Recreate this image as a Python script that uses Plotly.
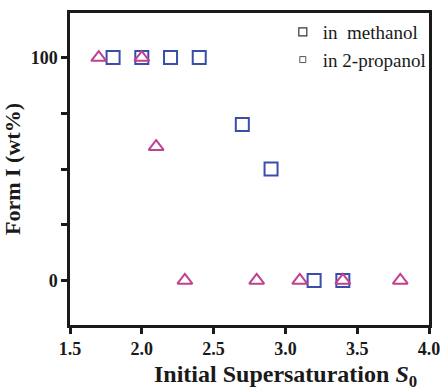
import plotly.graph_objects as go

# Form I content vs. initial supersaturation
methanol_s0 = [1.8, 2.0, 2.2, 2.4, 2.7, 2.9, 3.2, 3.4]
methanol_form1 = [100, 100, 100, 100, 70, 50, 0, 0]

propanol_s0 = [1.7, 2.0, 2.1, 2.3, 2.8, 3.1, 3.4, 3.8]
propanol_form1 = [100, 100, 60, 0, 0, 0, 0, 0]

x_ticks = [1.5, 2.0, 2.5, 3.0, 3.5, 4.0]
y_ticks = [0, 100]

BLUE = "#3b4dab"
MAGENTA = "#c0428f"
INK = "#1a1a1a"
SERIF = "Liberation Serif"

fig = go.Figure()

fig.add_trace(go.Scatter(
    x=methanol_s0, y=methanol_form1, mode="markers", showlegend=False,
    marker=dict(symbol="square-open", size=13, color=BLUE, line=dict(width=2, color=BLUE)),
))
fig.add_trace(go.Scatter(
    x=propanol_s0, y=propanol_form1, mode="markers", showlegend=False,
    marker=dict(symbol="triangle-up-open", size=13, color=MAGENTA, line=dict(width=2, color=MAGENTA)),
))

# legend entries
fig.add_trace(go.Scatter(
    x=[None], y=[None], mode="markers", name="in  methanol", legendgroup="a",
    marker=dict(symbol="square-open", size=8, color="#333", line=dict(width=1.2, color="#333")),
))
fig.add_trace(go.Scatter(
    x=[None], y=[None], mode="markers", name="in 2-propanol", legendgroup="b",
    marker=dict(symbol="square-open", size=6, color="#555", line=dict(width=1, color="#555")),
))

tick_font = dict(size=18, family=SERIF, color=INK, weight="bold")

fig.update_layout(
    width=443, height=391,
    margin=dict(l=70, r=14, t=13, b=66, autoexpand=False),
    paper_bgcolor="white", plot_bgcolor="white",
    font=dict(family=SERIF, color=INK),
    legend=dict(
        x=1.005, y=1.0, xanchor="right", yanchor="top",
        bgcolor="rgba(0,0,0,0)", font=dict(size=19, family=SERIF, color=INK),
        itemwidth=30, tracegroupgap=0,
    ),
    xaxis=dict(
        range=[1.5, 4.0], tickvals=x_ticks, ticktext=[f"{v:.1f}" for v in x_ticks],
        showgrid=False, zeroline=False,
        showline=True, linecolor=INK, linewidth=2.5, mirror=True,
        ticks="outside", ticklen=6, tickwidth=2.5, tickcolor=INK,
        tickfont=tick_font,
    ),
    yaxis=dict(
        range=[-20, 120], tickvals=y_ticks, ticktext=[str(v) for v in y_ticks],
        showgrid=False, zeroline=False,
        showline=True, linecolor=INK, linewidth=2.5, mirror=True,
        ticks="outside", ticklen=6, tickwidth=2.5, tickcolor=INK,
        tickfont=tick_font,
        minor=dict(tick0=0, dtick=25, ticks="outside", ticklen=6, tickwidth=2.5,
                   tickcolor=INK, showgrid=False),
        title=dict(text="Form I (wt%)",
                   font=dict(size=22, family=SERIF, color=INK, weight="bold"), standoff=8),
    ),
    annotations=[dict(
        text="Initial Supersaturation <i>S</i><sub>0</sub>",
        xref="paper", yref="paper", x=0.6, y=-0.165, xanchor="center", yanchor="middle",
        showarrow=False, font=dict(size=24, family=SERIF, color=INK, weight="bold"),
    )],
)

fig.write_html("out.html")
